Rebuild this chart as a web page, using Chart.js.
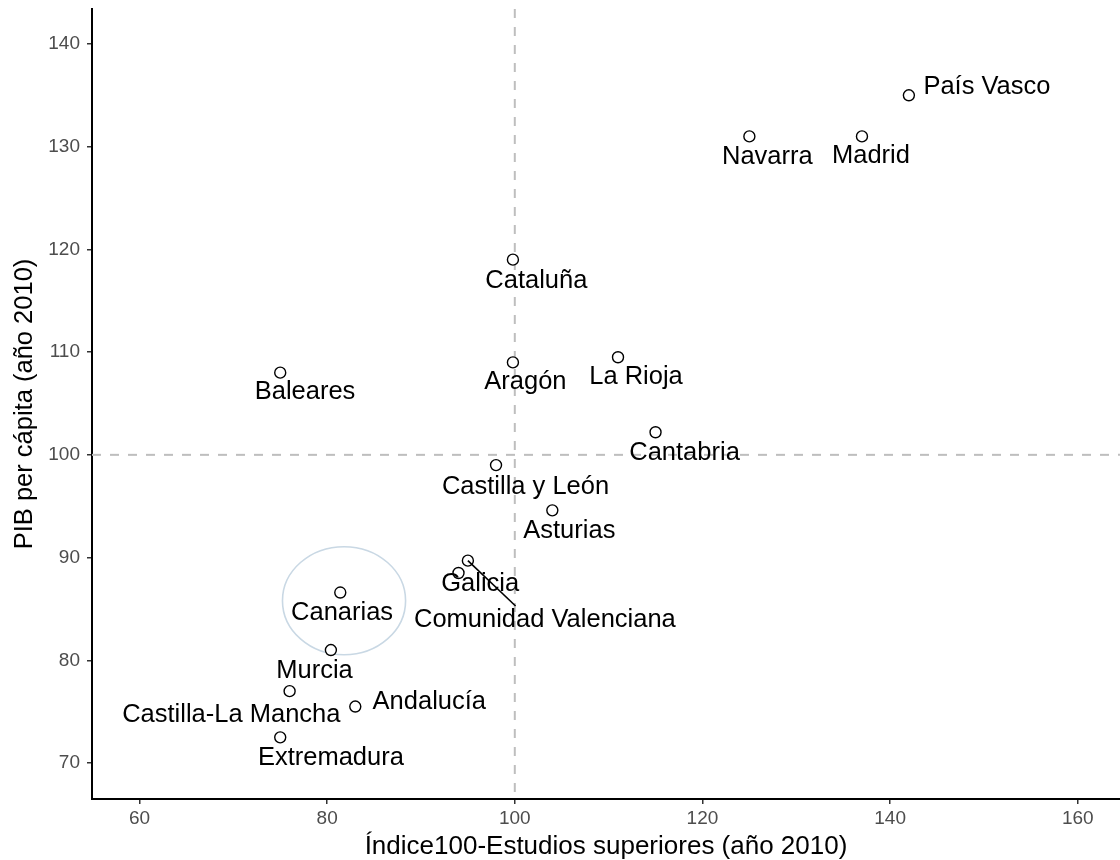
<!DOCTYPE html>
<html>
<head>
<meta charset="utf-8">
<script src="https://cdn.jsdelivr.net/npm/chart.js@4"></script>
<style>
  html, body { margin: 0; padding: 0; background: #fff; overflow: hidden; }
  canvas { display: block; }
</style>
</head>
<body>
<canvas id="c" width="1120" height="860" style="width:1120px;height:860px"></canvas>
<script>
// ---- data ----
const regions = ['País Vasco','Navarra','Madrid','Cataluña','Aragón','La Rioja','Baleares','Cantabria','Castilla y León','Asturias','Comunidad Valenciana','Galicia','Canarias','Murcia','Castilla-La Mancha','Andalucía','Extremadura'];
const estudios = [142, 125, 137, 99.8, 99.8, 111, 75, 115, 98, 104, 95, 94, 81.4, 80.4, 76, 83, 75];
const pib = [135, 131, 131, 119, 109, 109.5, 108, 102.2, 99, 94.6, 89.7, 88.5, 86.6, 81, 77, 75.5, 72.5];
const xTicks = [60, 80, 100, 120, 140, 160];
const yTicks = [70, 80, 90, 100, 110, 120, 130, 140];
const refX = 100;
const refY = 100;
const ellipseCenter = [81.8, 85.8];
const ellipseRadii = [6.56, 5.26];

// ---- label layout (pixel offsets from each point) ----
const labelLayout = {
  'País Vasco': [14.5, -8, 'left'],
  'Navarra': [18, 21, 'center'],
  'Madrid': [9, 20, 'center'],
  'Cataluña': [23.4, 21, 'center'],
  'Aragón': [12.5, 20, 'center'],
  'La Rioja': [18, 20, 'center'],
  'Baleares': [24.8, 19.5, 'center'],
  'Cantabria': [29, 21, 'center'],
  'Castilla y León': [29.5, 22, 'center'],
  'Asturias': [17, 20.7, 'center'],
  'Comunidad Valenciana': [77, 59.3, 'center'],
  'Galicia': [21.7, 10.7, 'center'],
  'Canarias': [1.8, 20.3, 'center'],
  'Murcia': [-16.4, 20.7, 'center'],
  'Castilla-La Mancha': [-58.3, 24, 'center'],
  'Andalucía': [74, -4.4, 'center'],
  'Extremadura': [50.7, 21, 'center']
};
const leader = { name: 'Comunidad Valenciana', dx: 47.7, dy: 45.3 };

const FONT = '"Liberation Sans", Arial, Helvetica, sans-serif';

function noPad(s) { s.paddingTop = 0; s.paddingBottom = 0; s.paddingLeft = 0; s.paddingRight = 0; }

const backgroundPlugin = {
  id: 'bgShapes',
  beforeDatasetsDraw(chart) {
    const {ctx, chartArea: a, scales: {x, y}} = chart;
    ctx.save();
    ctx.beginPath();
    ctx.rect(a.left, a.top, a.right - a.left, a.bottom - a.top);
    ctx.clip();
    // dashed reference lines
    ctx.strokeStyle = '#bebebe';
    ctx.lineWidth = 2;
    ctx.setLineDash([9, 9]);
    const px = x.getPixelForValue(refX);
    ctx.beginPath(); ctx.moveTo(px, a.top); ctx.lineTo(px, a.bottom); ctx.stroke();
    const py = y.getPixelForValue(refY);
    ctx.beginPath(); ctx.moveTo(a.left, py); ctx.lineTo(a.right, py); ctx.stroke();
    ctx.setLineDash([]);
    // ellipse
    const cx = x.getPixelForValue(ellipseCenter[0]);
    const cy = y.getPixelForValue(ellipseCenter[1]);
    const rx = Math.abs(x.getPixelForValue(ellipseCenter[0] + ellipseRadii[0]) - cx);
    const ry = Math.abs(y.getPixelForValue(ellipseCenter[1] + ellipseRadii[1]) - cy);
    ctx.strokeStyle = '#c9d8e4';
    ctx.lineWidth = 1.6;
    ctx.beginPath(); ctx.ellipse(cx, cy, rx, ry, 0, 0, Math.PI * 2); ctx.stroke();
    ctx.restore();
  },
  afterDatasetsDraw(chart) {
    const {ctx, scales: {x, y}} = chart;
    ctx.save();
    ctx.font = '25.5px ' + FONT;
    ctx.fillStyle = '#000';
    ctx.textBaseline = 'middle';
    regions.forEach((name, i) => {
      const px = x.getPixelForValue(estudios[i]);
      const py = y.getPixelForValue(pib[i]);
      const l = labelLayout[name];
      ctx.textAlign = l[2];
      ctx.fillText(name, px + l[0], py + l[1]);
    });
    // leader line
    const i = regions.indexOf(leader.name);
    const px = x.getPixelForValue(estudios[i]);
    const py = y.getPixelForValue(pib[i]);
    ctx.strokeStyle = '#000';
    ctx.lineWidth = 1.6;
    ctx.beginPath(); ctx.moveTo(px, py); ctx.lineTo(px + leader.dx, py + leader.dy); ctx.stroke();
    ctx.restore();
  }
};

new Chart(document.getElementById('c'), {
  type: 'scatter',
  data: {
    datasets: [{
      data: regions.map((r, i) => ({x: estudios[i], y: pib[i]})),
      pointRadius: 5.5,
      pointHoverRadius: 5.5,
      pointBorderWidth: 1.4,
      borderColor: '#000',
      backgroundColor: '#fff'
    }]
  },
  options: {
    responsive: false,
    maintainAspectRatio: false,
    devicePixelRatio: 1,
    animation: false,
    events: [],
    layout: { autoPadding: false, padding: { top: 9, right: 0, bottom: 0, left: 0 } },
    plugins: { legend: { display: false }, tooltip: { enabled: false } },
    scales: {
      x: {
        type: 'linear',
        min: 54.94, max: 164.5,
        afterBuildTicks: s => { s.ticks = xTicks.map(v => ({value: v})); },
        afterFit: s => { s.height = 61; noPad(s); },
        grid: { drawOnChartArea: false, drawTicks: true, tickLength: 5, color: '#333', lineWidth: 1.5 },
        border: { display: true, color: '#000', width: 2 },
        ticks: { color: '#4d4d4d', font: { family: FONT, size: 19 }, padding: 3, maxRotation: 0 },
        title: { display: true, text: 'Índice100-Estudios superiores (año 2010)', color: '#000',
                 font: { family: FONT, size: 26, lineHeight: 1 }, padding: { top: 0, bottom: 0 } }
      },
      y: {
        type: 'linear',
        min: 66.5, max: 143.4,
        afterBuildTicks: s => { s.ticks = yTicks.map(v => ({value: v})); },
        afterFit: s => { s.width = 92; noPad(s); },
        grid: { drawOnChartArea: false, drawTicks: true, tickLength: 5, color: '#333', lineWidth: 1.5 },
        border: { display: true, color: '#000', width: 2 },
        ticks: { color: '#4d4d4d', font: { family: FONT, size: 19 }, padding: 7 },
        title: { display: true, text: 'PIB per cápita (año 2010)', color: '#000',
                 font: { family: FONT, size: 25.5, lineHeight: 1 }, padding: { top: 12, bottom: 0 } }
      }
    }
  },
  plugins: [backgroundPlugin]
});
</script>
</body>
</html>
